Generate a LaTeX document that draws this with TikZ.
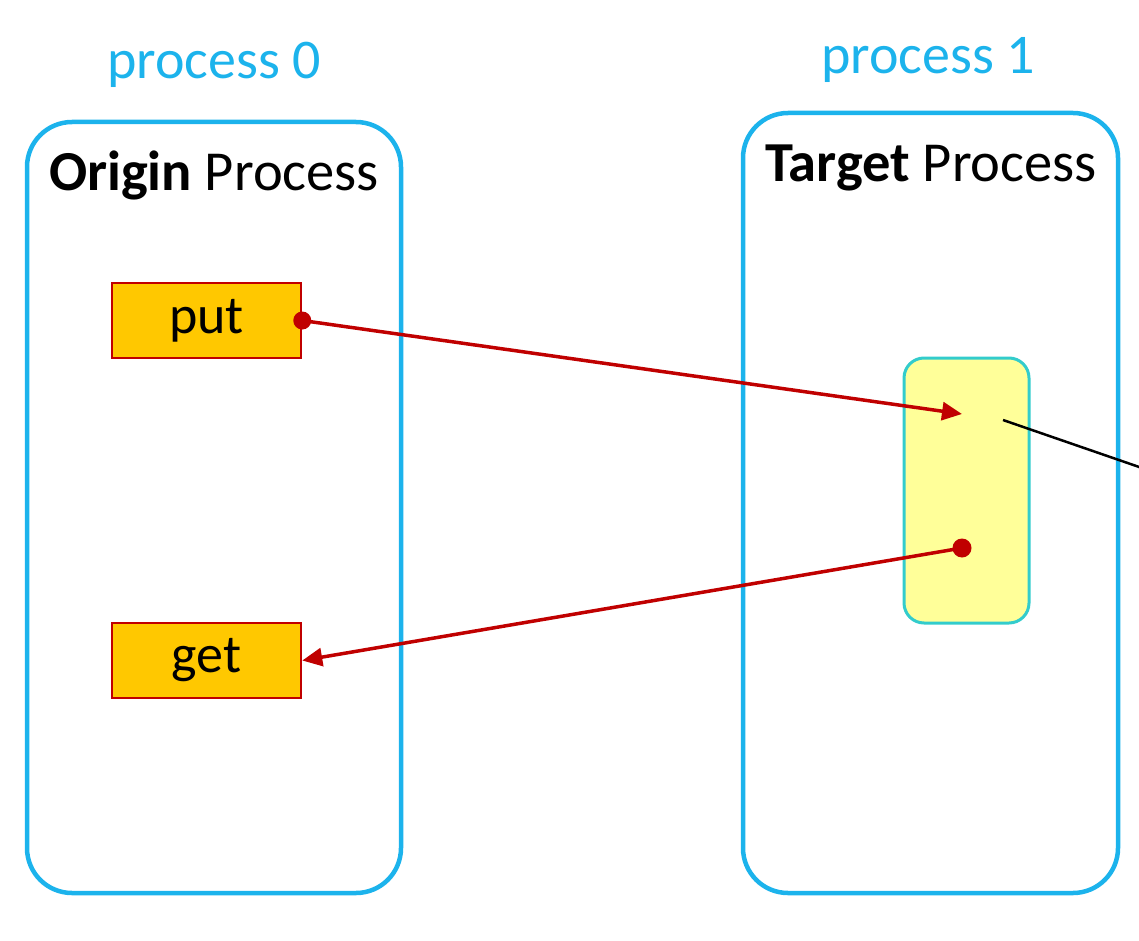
\documentclass[tikz,border=0pt]{standalone}
\usepackage{fontspec}
\setmainfont{Carlito}
\usepackage{tikz}
\usetikzlibrary{positioning,arrows.meta,calc}
\definecolor{procblue}{HTML}{1CB3EC}
\definecolor{opred}{HTML}{C00000}
\definecolor{opfill}{HTML}{FFC800}
\definecolor{winfill}{HTML}{FFFF99}
\definecolor{winedge}{HTML}{33CCCC}

\begin{document}
\begin{tikzpicture}
[   x=1pt, y=-1pt,
    procbox/.style={draw=procblue, line width=4.5pt, rounded corners=45pt},
    opbox/.style={draw=opred, fill=opfill, line width=2.5pt, minimum width=189pt, minimum height=75pt, inner sep=0pt, font=\fontsize{54}{60}\selectfont},
    plabel/.style={text=procblue, font=\fontsize{56}{62}\selectfont, anchor=base},
    title/.style={font=\fontsize{56.5}{62}\selectfont, anchor=base},
    oparrow/.style={draw=opred, line width=3.5pt, -{Triangle[length=20pt,width=18pt]}},
]
    \useasboundingbox (0,0) rectangle (1139,941);

    % the two processes
    \draw[procbox] (27,122) rectangle (401,893);
    \draw[procbox] (743,113) rectangle (1118,893);
    \node[plabel] (p0) at (214,79) {process 0};
    \node[plabel] (p1) at (928,74) {process 1};
    \node[title] (origin) at (214,191) {\textbf{Origin} Process};
    \node[title] (target) at (931,182) {\textbf{Target} Process};

    % operations and window
    \node[opbox] (put) at (206.5,320.5) {put};
    \node[opbox] (get) at (206.5,660.5) {get};
    \draw[draw=winedge, fill=winfill, line width=3pt, rounded corners=20pt] (904,358) rectangle (1029,623);
    \coordinate (win-in) at (962,414);
    \coordinate (win-out) at (962,548);
    \coordinate (mem) at (1003,420);
    \coordinate (off) at (1200,488);

    \draw[oparrow] (put.east) -- (win-in);
    \fill[opred] (put.east) circle (9pt);
    \draw[oparrow] (win-out) -- (get.east);
    \fill[opred] (win-out) circle (9.5pt);
    \draw[line width=2.5pt] (mem) -- (off);

\end{tikzpicture}
\end{document}
